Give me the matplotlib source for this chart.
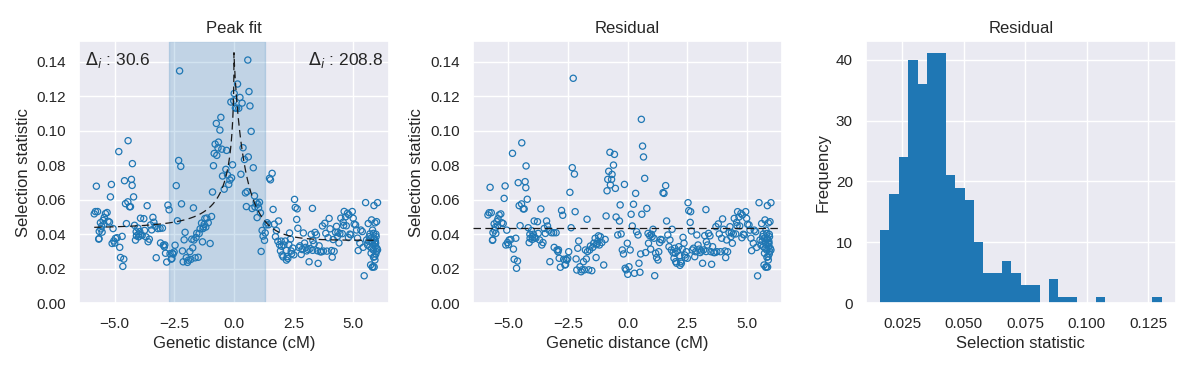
import numpy as np
import matplotlib
matplotlib.use("Agg")
import matplotlib.pyplot as plt
import seaborn as sns

# ---------------- data ----------------
positions = [
    -5.86, -5.81, -5.77, -5.72, -5.67, -5.66, -5.65, -5.60, -5.58, -5.55, -5.53, -5.49, -5.45, -5.44, -5.39,
    -5.32, -5.28, -5.22, -5.18, -5.14, -5.11, -5.07, -5.04, -5.00, -4.97, -4.90, -4.83, -4.79, -4.76, -4.69,
    -4.66, -4.62, -4.59, -4.55, -4.51, -4.45, -4.44, -4.38, -4.34, -4.30, -4.27, -4.26, -4.21, -4.17, -4.13,
    -4.10, -4.09, -4.03, -4.00, -3.99, -3.95, -3.92, -3.90, -3.85, -3.78, -3.75, -3.69, -3.64, -3.60, -3.55,
    -3.50, -3.45, -3.40, -3.36, -3.30, -3.26, -3.19, -3.10, -3.08, -3.00, -2.96, -2.92, -2.90, -2.87, -2.82,
    -2.77, -2.72, -2.68, -2.63, -2.60, -2.58, -2.55, -2.51, -2.47, -2.42, -2.37, -2.32, -2.28, -2.23, -2.20,
    -2.16, -2.13, -2.09, -2.05, -2.00, -1.95, -1.91, -1.85, -1.81, -1.77, -1.73, -1.70, -1.68, -1.63, -1.59,
    -1.56, -1.50, -1.46, -1.42, -1.36, -1.32, -1.30, -1.28, -1.25, -1.22, -1.18, -1.14, -1.08, -1.00, -0.94,
    -0.90, -0.86, -0.83, -0.79, -0.74, -0.72, -0.67, -0.65, -0.59, -0.55, -0.51, -0.48, -0.41, -0.34, -0.31,
    -0.27, -0.22, -0.17, -0.13, -0.10, -0.06, -0.01, 0.01, 0.06, 0.11, 0.15, 0.20, 0.25, 0.29, 0.34,
    0.38, 0.44, 0.48, 0.52, 0.55, 0.58, 0.60, 0.63, 0.67, 0.72, 0.76, 0.81, 0.86, 0.88, 0.93,
    0.97, 1.00, 1.03, 1.07, 1.11, 1.14, 1.18, 1.22, 1.28, 1.31, 1.35, 1.39, 1.45, 1.49, 1.53,
    1.60, 1.64, 1.69, 1.74, 1.78, 1.84, 1.87, 1.91, 1.95, 1.98, 2.00, 2.02, 2.06, 2.09, 2.15,
    2.19, 2.20, 2.23, 2.26, 2.30, 2.33, 2.37, 2.40, 2.42, 2.47, 2.51, 2.54, 2.57, 2.63, 2.65,
    2.68, 2.72, 2.77, 2.82, 2.86, 2.91, 2.96, 3.01, 3.05, 3.10, 3.15, 3.19, 3.24, 3.29, 3.30,
    3.31, 3.36, 3.40, 3.46, 3.50, 3.53, 3.57, 3.62, 3.67, 3.71, 3.75, 3.81, 3.85, 3.90,
    3.95, 3.99, 4.03, 4.09, 4.12, 4.16, 4.20, 4.26, 4.30, 4.34, 4.36, 4.40, 4.44, 4.48, 4.54,
    4.58, 4.60, 4.62, 4.68, 4.71, 4.76, 4.80, 4.82, 4.86, 4.90, 4.96, 5.00, 5.04, 5.10, 5.14,
    5.18, 5.21, 5.28, 5.32, 5.38, 5.42, 5.46, 5.52, 5.56, 5.60, 5.63, 5.65, 5.67, 5.70, 5.70,
    5.73, 5.74, 5.75, 5.77, 5.77, 5.80, 5.80, 5.81, 5.83, 5.84, 5.85, 5.85, 5.86, 5.87,
    5.88, 5.88, 5.90, 5.90, 5.91, 5.91, 5.92, 5.93, 5.94, 5.95, 5.95, 5.96, 5.97, 5.98, 5.99,
    6.02, 6.02,
]

residuals = [
    0.0512, 0.0525, 0.0672, 0.0525, 0.0365, 0.0368, 0.0410, 0.0460, 0.0424, 0.0440, 0.0405, 0.0473, 0.0450, 0.0490, 0.0512,
    0.0518, 0.0467, 0.0462, 0.0608, 0.0680, 0.0338, 0.0424, 0.0352, 0.0340, 0.0367, 0.0370, 0.0869, 0.0314, 0.0255, 0.0377,
    0.0203, 0.0245, 0.0699, 0.0566, 0.0450, 0.0576, 0.0930, 0.0547, 0.0547, 0.0705, 0.0670, 0.0796, 0.0603, 0.0438, 0.0352,
    0.0400, 0.0377, 0.0421, 0.0370, 0.0386, 0.0400, 0.0477, 0.0380, 0.0377, 0.0473, 0.0405, 0.0367, 0.0547, 0.0338, 0.0352,
    0.0434, 0.0405, 0.0477, 0.0448, 0.0424, 0.0241, 0.0409, 0.0409, 0.0324, 0.0409, 0.0309, 0.0299, 0.0310, 0.0261, 0.0209,
    0.0538, 0.0510, 0.0255, 0.0222, 0.0225, 0.0255, 0.0250, 0.0261, 0.0299, 0.0643, 0.0438, 0.0786, 0.1304, 0.0749, 0.0531,
    0.0257, 0.0193, 0.0319, 0.0361, 0.0212, 0.0183, 0.0194, 0.0241, 0.0194, 0.0309, 0.0257, 0.0487, 0.0300, 0.0194, 0.0309,
    0.0332, 0.0189, 0.0324, 0.0348, 0.0377, 0.0265, 0.0340, 0.0348, 0.0360, 0.0391, 0.0338, 0.0386, 0.0352, 0.0222, 0.0370,
    0.0506, 0.0652, 0.0718, 0.0765, 0.0875, 0.0686, 0.0718, 0.0747, 0.0801, 0.0863, 0.0666, 0.0500, 0.0396, 0.0477, 0.0570,
    0.0402, 0.0309, 0.0286, 0.0689, 0.0203, 0.0194, 0.0348, 0.0168, 0.0212, 0.0309, 0.0516, 0.0448, 0.0574, 0.0174, 0.0637,
    0.0415, 0.0396, 0.0232, 0.0180, 0.0286, 0.1066, 0.0516, 0.0911, 0.0848, 0.0724, 0.0294, 0.0550, 0.0405, 0.0348, 0.0392,
    0.0314, 0.0400, 0.0386, 0.0429, 0.0377, 0.0160, 0.0290, 0.0265, 0.0251, 0.0299, 0.0352, 0.0370, 0.0367, 0.0641, 0.0637,
    0.0682, 0.0477, 0.0396, 0.0328, 0.0367, 0.0309, 0.0429, 0.0294, 0.0261, 0.0319, 0.0290, 0.0241, 0.0232, 0.0303, 0.0328,
    0.0276, 0.0220, 0.0241, 0.0232, 0.0314, 0.0382, 0.0348, 0.0280, 0.0265, 0.0299, 0.0261, 0.0583, 0.0537, 0.0469, 0.0531,
    0.0419, 0.0309, 0.0319, 0.0270, 0.0299, 0.0396, 0.0338, 0.0314, 0.0294, 0.0303, 0.0232, 0.0309, 0.0392, 0.0543, 0.0300,
    0.0357, 0.0338, 0.0405, 0.0391, 0.0299, 0.0226, 0.0328, 0.0294, 0.0294, 0.0444, 0.0299, 0.0460, 0.0402, 0.0299,
    0.0377, 0.0489, 0.0429, 0.0303, 0.0265, 0.0367, 0.0299, 0.0409, 0.0444, 0.0386, 0.0410, 0.0348, 0.0402, 0.0492, 0.0402,
    0.0469, 0.0450, 0.0531, 0.0500, 0.0448, 0.0521, 0.0380, 0.0512, 0.0400, 0.0396, 0.0531, 0.0492, 0.0458, 0.0454, 0.0424,
    0.0377, 0.0305, 0.0348, 0.0424, 0.0415, 0.0324, 0.0159, 0.0583, 0.0367, 0.0338, 0.0462, 0.0360, 0.0386, 0.0328, 0.0402,
    0.0222, 0.0377, 0.0290, 0.0483, 0.0319, 0.0348, 0.0209, 0.0424, 0.0212, 0.0309, 0.0405, 0.0267, 0.0370, 0.0566,
    0.0377, 0.0210, 0.0348, 0.0270, 0.0466, 0.0251, 0.0328, 0.0360, 0.0348, 0.0286, 0.0400, 0.0386, 0.0300, 0.0473, 0.0319,
    0.0583, 0.0309,
]

# peak-fit parameters
peak_pos = 0.0
peak_height = 0.1452
base_left = 0.0434
base_right = 0.0365
rate_left, power_left = 2.1, 0.5
rate_right, power_right = 1.83, 0.85
region_lo, region_hi = -2.74, 1.30
delta_left_label = r"$\Delta_i$ : 30.6"
delta_right_label = r"$\Delta_i$ : 208.8"
n_bins = 30
blue = "#1f77b4"

# ---------------- model helpers ----------------
x = np.asarray(positions)
resid = np.asarray(residuals)


def peak_excess(xv):
    xv = np.asarray(xv, dtype=float)
    d = np.abs(xv - peak_pos)
    left = (peak_height - base_left) * np.exp(-rate_left * d ** power_left)
    right = (peak_height - base_right) * np.exp(-rate_right * d ** power_right)
    return np.where(xv < peak_pos, left, right)


def fit_curve(xv):
    xv = np.asarray(xv, dtype=float)
    base = np.where(xv < peak_pos, base_left, base_right)
    return base + peak_excess(xv)


raw = resid + peak_excess(x)

# ---------------- style ----------------
sns.set_theme(style="darkgrid", context="notebook")
plt.rcParams["font.family"] = ["Liberation Sans", "DejaVu Sans"]

fig = plt.figure(figsize=(11.91, 3.68), dpi=100)
ax1 = fig.add_axes([0.0663, 0.1758, 0.2603, 0.7128])
ax2 = fig.add_axes([0.3969, 0.1758, 0.2600, 0.7128])
ax3 = fig.add_axes([0.7271, 0.1758, 0.2600, 0.7128])

# Panel 1: peak fit
ax1.axvspan(region_lo, region_hi, color=blue, alpha=0.2)
ax1.scatter(x, raw, s=20, facecolors="none", edgecolors=blue, linewidths=0.9, zorder=3)
xs = np.union1d(np.linspace(x.min(), x.max(), 1200), [peak_pos])
ax1.plot(xs, fit_curve(xs), color="k", lw=0.9, dashes=(6, 3.5), zorder=4)
ax1.text(0.02, 0.965, delta_left_label, transform=ax1.transAxes, ha="left", va="top", fontsize=12.5)
ax1.text(0.98, 0.965, delta_right_label, transform=ax1.transAxes, ha="right", va="top", fontsize=12.5)
ax1.set_xlim(-6.5, 6.5)
ax1.set_ylim(0, 0.152)
ax1.set_title("Peak fit")
ax1.set_xlabel("Genetic distance (cM)")
ax1.set_ylabel("Selection statistic")

# Panel 2: residual scatter
ax2.scatter(x, resid, s=20, facecolors="none", edgecolors=blue, linewidths=0.9, zorder=3)
ax2.axhline(base_left, color="k", lw=0.9, dashes=(6, 3.5), zorder=4)
ax2.set_xlim(-6.5, 6.5)
ax2.set_ylim(0, 0.152)
ax2.set_title("Residual")
ax2.set_xlabel("Genetic distance (cM)")
ax2.set_ylabel("Selection statistic")

# Panel 3: histogram of residuals
ax3.hist(resid, bins=n_bins, color=blue, linewidth=0)
ax3.set_title("Residual")
ax3.set_xlabel("Selection statistic")
ax3.set_ylabel("Frequency")

fig.savefig("out.png", dpi=100)
